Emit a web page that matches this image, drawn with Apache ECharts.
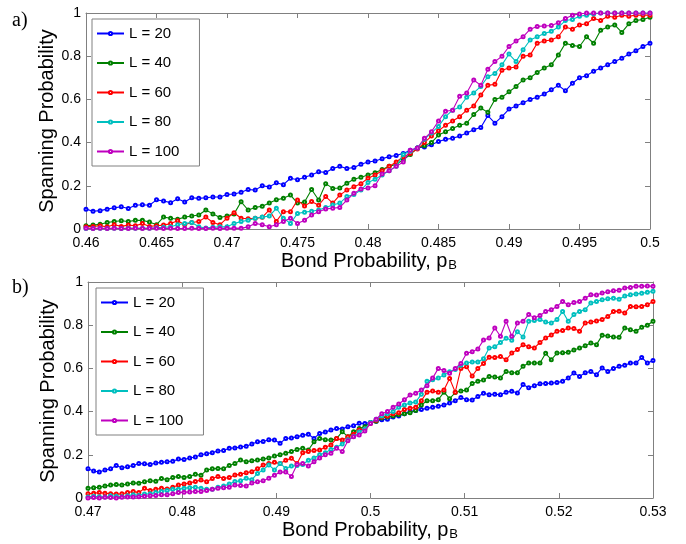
<!DOCTYPE html>
<html><head><meta charset="utf-8">
<script src="https://cdn.jsdelivr.net/npm/echarts@6/dist/echarts.min.js"></script>
<style>html,body{margin:0;padding:0;background:#fff}#c{width:686px;height:544px}</style>
</head><body><div id="c"></div>
<script>
const seriesNames = ['L = 20','L = 40','L = 60','L = 80','L = 100'];
const colors = ['#0000ff','#008000','#ff0000','#00bfbf','#bf00bf'];

const pTop = [0.46,0.4605,0.461,0.4615,0.462,0.4625,0.463,0.4635,0.464,0.4645,
0.465,0.4655,0.466,0.4665,0.467,0.4675,0.468,0.4685,0.469,0.4695,
0.47,0.4705,0.471,0.4715,0.472,0.4725,0.473,0.4735,0.474,0.4745,
0.475,0.4755,0.476,0.4765,0.477,0.4775,0.478,0.4785,0.479,0.4795,
0.48,0.4805,0.481,0.4815,0.482,0.4825,0.483,0.4835,0.484,0.4845,
0.485,0.4855,0.486,0.4865,0.487,0.4875,0.488,0.4885,0.489,0.4895,
0.49,0.4905,0.491,0.4915,0.492,0.4925,0.493,0.4935,0.494,0.4945,
0.495,0.4955,0.496,0.4965,0.497,0.4975,0.498,0.4985,0.499,0.4995,
0.5];
const top20 = [.092,.082,.085,.092,.098,.103,.095,.11,.112,.11,
.135,.13,.122,.14,.125,.145,.142,.145,.148,.148,
.16,.162,.17,.183,.18,.2,.195,.214,.205,.235,
.228,.24,.25,.265,.262,.28,.29,.28,.285,.3,
.31,.315,.325,.335,.34,.35,.365,.375,.38,.39,
.405,.415,.42,.43,.445,.46,.47,.525,.49,.52,
.555,.57,.585,.6,.61,.625,.645,.665,.64,.675,
.7,.71,.73,.745,.76,.775,.79,.81,.825,.845,
.86];
const top40 = [.015,.018,.022,.03,.035,.038,.035,.04,.04,.032,
.02,.055,.05,.045,.055,.06,.065,.088,.07,.053,
.06,.07,.126,.088,.1,.105,.12,.135,.142,.157,
.12,.125,.183,.134,.21,.188,.19,.212,.23,.24,
.25,.26,.275,.29,.3,.32,.345,.375,.385,.4,
.435,.45,.465,.48,.49,.53,.56,.54,.6,.61,
.635,.66,.69,.70,.725,.745,.76,.805,.86,.85,
.845,.89,.86,.92,.935,.945,.91,.95,.965,.97,
.98];
const top60 = [.01,.012,.015,.01,.02,.012,.018,.015,.025,.012,
.015,.018,.025,.038,.02,.03,.035,.055,.03,.02,
.05,.075,.05,.048,.05,.054,.088,.035,.08,.08,
.134,.106,.127,.11,.15,.12,.157,.18,.196,.21,
.235,.25,.27,.29,.31,.335,.35,.37,.40,.43,
.455,.48,.50,.52,.55,.57,.62,.665,.67,.735,
.745,.75,.80,.805,.86,.87,.875,.89,.935,.925,
.945,.95,.975,.965,.985,.98,.99,.985,.99,.99,
.99];
const top80 = [.002,.002,.003,.002,.003,.002,.004,.003,.004,.003,
.006,.008,.01,.02,.026,.03,.01,.005,.008,.01,
.01,.025,.035,.04,.05,.055,.06,.096,.05,.026,
.072,.078,.082,.088,.1,.111,.12,.15,.16,.18,
.215,.23,.25,.27,.29,.345,.36,.375,.415,.445,
.475,.52,.55,.565,.61,.63,.66,.705,.72,.76,
.81,.775,.83,.875,.89,.905,.915,.935,.965,.97,
.985,.99,.995,1,1,1,1,1,1,1,
1];
const top100 = [.003,.002,.003,.002,.003,.002,.002,.003,.002,.003,
.004,.002,.003,.002,.002,.003,.002,.002,.003,.002,
.003,.004,.003,.01,.026,.02,.01,.02,.035,.05,
.026,.041,.065,.08,.093,.096,.1,.134,.165,.185,
.19,.2,.255,.27,.29,.31,.365,.375,.42,.45,
.50,.545,.55,.615,.63,.69,.665,.74,.775,.80,
.845,.87,.89,.925,.938,.94,.942,.955,.975,.99,
.995,1,1,1,1,1,1,1,1,1,
1];

const pBot = [0.47,0.4706,0.4712,0.4718,0.4724,0.473,0.4736,0.4742,0.4748,0.4754,
0.476,0.4766,0.4772,0.4778,0.4784,0.479,0.4796,0.4802,0.4808,0.4814,
0.482,0.4826,0.4832,0.4838,0.4844,0.485,0.4856,0.4862,0.4868,0.4874,
0.488,0.4886,0.4892,0.4898,0.4904,0.491,0.4916,0.4922,0.4928,0.4934,
0.494,0.4946,0.4952,0.4958,0.4964,0.497,0.4976,0.4982,0.4988,0.4994,
0.5,0.5006,0.5012,0.5018,0.5024,0.503,0.5036,0.5042,0.5048,0.5054,
0.506,0.5066,0.5072,0.5078,0.5084,0.509,0.5096,0.5102,0.5108,0.5114,
0.512,0.5126,0.5132,0.5138,0.5144,0.515,0.5156,0.5162,0.5168,0.5174,
0.518,0.5186,0.5192,0.5198,0.5204,0.521,0.5216,0.5222,0.5228,0.5234,
0.524,0.5246,0.5252,0.5258,0.5264,0.527,0.5276,0.5282,0.5288,0.5294,
0.53];
const bot20 = [.135,.125,.12,.13,.135,.15,.14,.145,.15,.16,
.158,.155,.162,.165,.168,.17,.18,.178,.185,.19,
.2,.205,.21,.218,.22,.23,.232,.236,.24,.25,
.26,.262,.27,.268,.253,.276,.278,.284,.29,.295,
.276,.299,.305,.315,.322,.32,.33,.335,.346,.345,
.35,.355,.362,.365,.375,.38,.39,.40,.405,.41,
.415,.42,.425,.43,.44,.45,.465,.455,.454,.47,
.485,.478,.48,.478,.49,.494,.486,.525,.51,.52,
.529,.53,.532,.535,.54,.556,.579,.563,.58,.586,
.571,.602,.586,.60,.61,.615,.625,.625,.651,.625,
.636];
const bot40 = [.045,.048,.05,.055,.06,.062,.06,.065,.07,.068,
.075,.08,.078,.09,.085,.095,.1,.095,.1,.11,
.105,.13,.135,.137,.135,.15,.16,.176,.168,.172,
.176,.18,.185,.194,.2,.207,.215,.225,.23,.222,
.26,.276,.27,.268,.275,.307,.284,.307,.322,.33,
.35,.355,.37,.375,.38,.385,.39,.395,.405,.43,
.45,.45,.455,.49,.46,.488,.495,.5,.53,.54,
.546,.563,.56,.556,.586,.58,.58,.61,.625,.625,
.625,.67,.64,.671,.672,.675,.685,.694,.705,.718,
.71,.753,.75,.745,.744,.787,.779,.772,.79,.80,
.818];
const bot60 = [.02,.022,.025,.022,.02,.018,.02,.025,.03,.025,
.045,.035,.04,.045,.042,.05,.06,.065,.07,.076,
.083,.075,.09,.1,.09,.095,.106,.11,.117,.122,
.135,.153,.16,.165,.16,.175,.184,.16,.21,.215,
.22,.222,.235,.245,.276,.268,.284,.295,.315,.32,
.345,.36,.375,.38,.39,.395,.41,.415,.42,.45,
.49,.495,.49,.5,.553,.49,.6,.608,.565,.6,
.623,.652,.65,.655,.64,.671,.687,.71,.70,.695,
.72,.741,.755,.772,.775,.787,.785,.772,.81,.815,
.82,.826,.84,.864,.865,.856,.887,.885,.887,.895,
.91];
const bot80 = [.005,.008,.006,.005,.01,.008,.006,.01,.015,.012,
.018,.02,.025,.03,.035,.04,.04,.045,.048,.05,
.045,.04,.04,.05,.055,.065,.076,.08,.091,.085,
.114,.13,.153,.13,.16,.137,.148,.15,.155,.175,
.185,.2,.21,.225,.235,.25,.27,.285,.305,.32,
.35,.365,.38,.39,.40,.42,.43,.44,.445,.48,
.54,.548,.555,.57,.585,.595,.615,.625,.63,.63,
.645,.694,.70,.72,.74,.73,.77,.745,.818,.822,
.826,.815,.81,.826,.864,.818,.85,.864,.872,.903,
.91,.918,.922,.925,.92,.935,.941,.945,.948,.952,
.957];
const bot100 = [0,.002,0,.003,.002,0,.004,.005,.005,.006,
.008,.01,.012,.015,.015,.02,.025,.027,.028,.03,
.03,.035,.04,.045,.048,.05,.06,.058,.055,.07,
.075,.08,.092,.105,.12,.12,.10,.155,.16,.148,
.168,.185,.2,.207,.23,.215,.265,.284,.292,.31,
.345,.365,.39,.40,.42,.435,.455,.477,.485,.50,
.52,.555,.60,.59,.577,.60,.623,.67,.677,.69,
.731,.741,.787,.749,.818,.749,.81,.818,.849,.835,
.845,.864,.872,.887,.91,.895,.905,.91,.925,.941,
.94,.949,.955,.96,.962,.972,.975,.98,.98,.982,
.98];

const FONT = '"Liberation Sans", Arial, Helvetica, sans-serif';
const SERIF = '"Liberation Serif", "Times New Roman", serif';
const AXC = '#808080';
const xTitle = '{a|Bond Probability, p}{b|B}';
const yTitle = 'Spanning Probability';
const topSets = [top20, top40, top60, top80, top100];
const botSets = [bot20, bot40, bot60, bot80, bot100];

function mkSeries(p, sets, gi) {
  return sets.map((vals, i) => ({
    name: seriesNames[i], type: 'line',
    xAxisIndex: gi * 2, yAxisIndex: gi * 2,
    data: p.map((x, k) => [x, vals[k]]),
    symbol: 'emptyCircle', symbolSize: 3, showSymbol: true,
    lineStyle: { width: 1.1, color: colors[i] },
    itemStyle: { color: colors[i], borderColor: colors[i], borderWidth: 1 },
    emphasis: { disabled: true }, z: 3 + i, clip: true
  }));
}
function xAx(gi, min, max, interval, main) {
  return {
    type: 'value', gridIndex: gi, min, max, interval,
    position: main ? 'bottom' : 'top',
    axisLine: { show: true, onZero: false, lineStyle: { color: AXC, width: 1 } },
    axisTick: { show: true, inside: true, length: 5, lineStyle: { color: AXC } },
    axisLabel: { show: main, color: '#000', fontSize: 14, fontFamily: FONT, margin: 7 },
    splitLine: { show: false }
  };
}
function yAx(gi, main) {
  return {
    type: 'value', gridIndex: gi, min: 0, max: 1, interval: 0.2,
    position: main ? 'left' : 'right',
    axisLine: { show: true, onZero: false, lineStyle: { color: AXC, width: 1 } },
    axisTick: { show: true, inside: true, length: 5, lineStyle: { color: AXC } },
    axisLabel: { show: main, color: '#000', fontSize: 14, fontFamily: FONT, margin: 5 },
    splitLine: { show: false }
  };
}
function legend(left, top) {
  return {
    data: seriesNames, orient: 'vertical', left, top,
    itemWidth: 27, itemHeight: 4, itemGap: 14.5,
    padding: [7, 20, 7, 4],
    backgroundColor: '#fff', borderColor: AXC, borderWidth: 1, borderRadius: 0,
    textStyle: { fontSize: 15, fontFamily: FONT, color: '#000', lineHeight: 14 },
    selectedMode: false
  };
}
const richX = {
  a: { fontSize: 20, fontFamily: FONT, fill: '#000', lineHeight: 22 },
  b: { fontSize: 13, fontFamily: FONT, fill: '#000', lineHeight: 22, verticalAlign: 'bottom', padding: [10, 0, 0, 1] }
};
function xTitleEl(cx, cy) {
  return { type: 'text', x: cx, y: cy, z: 50,
    style: { text: xTitle, rich: richX, align: 'center', verticalAlign: 'middle', fill: '#000' } };
}
function yTitleEl(cx, cy) {
  return { type: 'text', x: cx, y: cy, rotation: Math.PI / 2, z: 50,
    style: { text: yTitle, font: '20px ' + FONT, align: 'center', verticalAlign: 'middle', fill: '#000' } };
}

const chart = echarts.init(document.getElementById('c'), null, { renderer: 'canvas' });
chart.setOption({
  animation: false,
  backgroundColor: '#fff',
  grid: [
    { left: 86, top: 13, width: 564, height: 216 },
    { left: 88, top: 282, width: 565, height: 216 }
  ],
  xAxis: [xAx(0, 0.46, 0.5, 0.005, true), xAx(0, 0.46, 0.5, 0.005, false),
          xAx(1, 0.47, 0.53, 0.01, true), xAx(1, 0.47, 0.53, 0.01, false)],
  yAxis: [yAx(0, true), yAx(0, false), yAx(1, true), yAx(1, false)],
  legend: [legend(92, 19), legend(96, 288)],
  series: mkSeries(pTop, topSets, 0).concat(mkSeries(pBot, botSets, 1)),
  graphic: [
    xTitleEl(369, 261), xTitleEl(370, 530),
    yTitleEl(47, 121), yTitleEl(48, 391),
    { type: 'text', left: 12, top: 11, style: { text: 'a)', font: '20px ' + SERIF, fill: '#000' } },
    { type: 'text', left: 12, top: 278, style: { text: 'b)', font: '20px ' + SERIF, fill: '#000' } }
  ]
});
</script></body></html>
